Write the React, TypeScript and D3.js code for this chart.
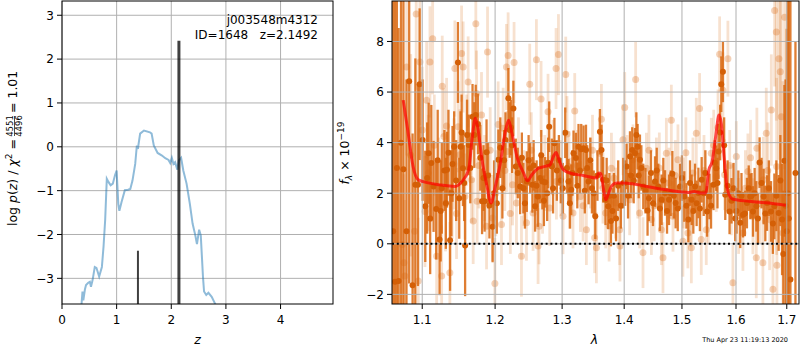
import React from 'react';
import * as d3 from 'd3';

// left panel: log p(z)
const zGrid = [0.35, 0.36, 0.375, 0.39, 0.42, 0.44, 0.48, 0.51, 0.53, 0.56, 0.60, 0.63, 0.68, 0.73, 0.76, 0.79, 0.82, 0.85, 0.89, 0.93, 0.97, 1.00, 1.03, 1.05, 1.09, 1.15, 1.21, 1.25, 1.29, 1.34, 1.37, 1.39, 1.40, 1.43, 1.50, 1.61, 1.64, 1.68, 1.75, 1.83, 1.89, 1.95, 1.98, 2.01, 2.04, 2.07, 2.11, 2.14, 2.18, 2.22, 2.28, 2.34, 2.39, 2.44, 2.47, 2.51, 2.54, 2.58, 2.60, 2.64, 2.68, 2.74, 2.81, 2.85];
const logPz = [-3.7, -3.55, -3.30, -3.5, -3.25, -3.15, -3.10, -3.08, -3.19, -3.04, -2.74, -2.76, -2.96, -2.74, -2.28, -1.67, -0.73, -0.80, -0.88, -0.84, -0.65, -0.54, -1.30, -1.46, -1.26, -0.99, -0.98, -0.96, -0.77, -0.39, 0.03, -0.05, 0.05, 0.30, 0.37, 0.33, 0.30, 0.03, -0.14, -0.20, -0.26, -0.30, -0.37, -0.25, -0.39, -0.35, -0.52, -0.31, -0.25, -0.54, -0.84, -1.30, -1.75, -2.02, -2.22, -1.89, -2.02, -2.96, -3.30, -3.38, -3.33, -3.42, -3.60, -3.75];
const peakZ = [1.39, 2.14];
const peakTop = [-2.37, 2.42];
const peakWidth = [2, 3];
const zTicks = [0, 1, 2, 3, 4];
const pzTicks = [-3, -2, -1, 0, 1, 2, 3];

// right panel: spectrum, first set (solid)
const darkWave = [1.0625, 1.0648, 1.0672, 1.0694, 1.0725, 1.0756, 1.0795, 1.083, 1.0874, 1.091, 1.0944, 1.0966, 1.104, 1.1085, 1.112, 1.115, 1.1185, 1.123, 1.126, 1.1295, 1.133, 1.1372, 1.1405, 1.1427, 1.1479, 1.1515, 1.1548, 1.1578, 1.1628, 1.1681, 1.1726, 1.1757, 1.1815, 1.1851, 1.1878, 1.1919, 1.1964, 1.2047, 1.2105, 1.215, 1.2192, 1.223, 1.2265, 1.23, 1.2329, 1.2364, 1.2412, 1.2463, 1.2512, 1.2547, 1.2587, 1.2628, 1.2663, 1.2697, 1.2739, 1.277, 1.2801, 1.2841, 1.2881, 1.2918, 1.298, 1.3048, 1.3099, 1.3142, 1.3178, 1.3216, 1.3257, 1.33, 1.3337, 1.3376, 1.3417, 1.3471, 1.3525, 1.356, 1.36, 1.3626, 1.3653, 1.3691, 1.3735, 1.378, 1.383, 1.39, 1.3945, 1.3985, 1.404, 1.4097, 1.4135, 1.4182, 1.4226, 1.4266, 1.4323, 1.4396, 1.4455, 1.4525, 1.4582, 1.464, 1.47, 1.477, 1.4829, 1.4887, 1.4966, 1.5042, 1.5115, 1.5175, 1.5236, 1.5297, 1.5357, 1.5457, 1.5501, 1.5576, 1.5627, 1.567, 1.5721, 1.5752, 1.5796, 1.5877, 1.5953, 1.601, 1.6081, 1.6134, 1.621, 1.6276, 1.6328, 1.6393, 1.6457, 1.6536, 1.6604, 1.6683, 1.675, 1.6836, 1.6905, 1.6952, 1.7, 1.704, 1.7074, 1.7177,
  1.1005, 1.1065, 1.1105, 1.1205, 1.1245, 1.1315, 1.135, 1.139, 1.1455, 1.1497, 1.153, 1.1565, 1.1605, 1.165, 1.1705, 1.179, 1.1835, 1.19, 1.1985, 1.2025, 1.2075, 1.213, 1.221, 1.2245, 1.239, 1.2435, 1.249, 1.2565, 1.261, 1.268, 1.272, 1.2785, 1.286, 1.295, 1.301, 1.3075, 1.312, 1.316, 1.3238, 1.328, 1.3357, 1.3395, 1.3445, 1.35, 1.371, 1.3755, 1.3805, 1.3865, 1.401, 1.4065, 1.4115, 1.416, 1.4205, 1.4245, 1.429, 1.436, 1.442, 1.449, 1.4555, 1.461, 1.467, 1.4735, 1.48, 1.4855, 1.4925, 1.5, 1.508, 1.5145, 1.5205, 1.5265, 1.5325, 1.5395, 1.5425, 1.553, 1.56, 1.565, 1.57, 1.5775, 1.584, 1.5915, 1.5985, 1.6045, 1.6105, 1.617, 1.6245, 1.63, 1.636, 1.6425, 1.6495, 1.657, 1.664, 1.672, 1.679, 1.687, 1.693, 1.6975, 1.702];
const darkFlux = [0.5, -1.5, 3.0, -1.47, 4.0, 2.95, 0.5, 6.43, -1.64, 2.33, 2.33, 6.31, 1.48, 3.58, 3.19, 2.27, 1.38, 0.17, 2.2, 2.9, 2.93, 0.14, 3.16, 3.84, 7.17, 3.84, 2.99, -0.07, 3.91, 5.02, 5.09, 4.74, 1.68, 1.68, 3.62, 1.51, 0.67, 3.32, 2.2, 4.1, 5.75, 4.6, 5.35, 3.06, 2.8, 2.27, 2.2, 2.46, 2.99, 2.33, 1.48, 1.87, 2.6, 2.46, 2.43, 2.0, 4.63, 3.06, 3.98, 2.9, 2.5, 4.39, 2.46, 2.14, 3.58, 3.39, 3.84, 3.74, 3.78, 3.71, 2.46, 2.2, 1.09, 2.7, 4.43, 3.71, 2.53, 1.74, 1.48, 0.9, 1.9, 2.3, 1.5, 2.4, 3.06, 3.45, 3.71, 3.58, 3.84, 3.32, 2.27, 1.32, 2.8, 2.46, 2.27, 1.74, 2.01, 1.74, 2.77, 1.61, 2.27, 1.87, 0.96, 1.74, 2.27, 2.01, 2.53, 1.28, 1.87, 2.33, 2.99, 3.65, 6.31, 6.8, 1.94, 1.28, 2.2, 1.3, 0.83, 1.15, 1.61, 1.87, 1.28, 1.48, 3.21, 1.87, 1.61, 1.28, 1.48, 1.22, 0.96, 3.28, 0.5, 1.0, -1.41, 2.8,
  4.1, 2.6, 1.0, 3.3, 1.3, 1.6, 3.6, 2.0, 2.5, 1.8, 4.4, 2.4, 4.3, 3.0, 4.3, 3.4, 2.6, 2.7, 2.0, 1.6, 3.8, 3.3, 4.5, 3.9, 3.4, 1.6, 3.3, 3.1, 2.3, 3.5, 1.7, 3.2, 2.2, 3.3, 2.2, 3.0, 1.6, 2.8, 2.3, 2.9, 2.1, 3.0, 3.3, 2.0, 2.5, 1.9, 1.3, 1.0, 2.4, 1.9, 2.7, 2.5, 4.3, 2.7, 3.0, 2.1, 1.8, 1.6, 2.9, 1.4, 2.5, 1.3, 2.0, 1.9, 1.4, 2.6, 1.5, 2.4, 1.3, 1.6, 1.4, 2.0, 2.8, 1.5, 3.2, 2.4, 4.4, 3.9, 2.3, 1.7, 1.0, 2.0, 1.9, 1.2, 2.2, 1.9, 2.0, 1.0, 2.4, 1.2, 2.2, 0.8, 1.9, 2.5, -0.4, 1.5, 2.0];
const darkErr = [14, 12, 11, 10, 7.5, 7, 6, 8, 6, 5, 4, 3, 2.2, 2.0, 2.3, 1.8, 2.0, 2.2, 1.8, 1.6, 1.5, 2.0, 1.5, 1.4, 1.6, 1.4, 1.5, 2.0, 1.2, 1.3, 1.2, 1.2, 1.3, 1.2, 1.3, 1.3, 1.4, 1.2, 1.2, 1.1, 1.2, 1.1, 1.1, 1.1, 1.0, 1.1, 1.0, 1.2, 1.0, 1.1, 1.0, 1.2, 1.0, 1.1, 1.0, 1.1, 1.0, 1.1, 1.0, 1.2, 0.9, 1.0, 0.9, 1.0, 0.9, 1.0, 0.9, 1.0, 0.9, 1.0, 0.9, 1.0, 0.9, 1.0, 0.9, 1.0, 0.9, 1.0, 0.9, 1.0, 0.9, 1.0, 0.9, 1.0, 0.9, 1.0, 0.9, 1.0, 0.9, 1.0, 0.9, 1.0, 0.9, 1.0, 0.9, 1.0, 0.9, 1.0, 0.9, 1.0, 0.9, 1.0, 0.9, 1.0, 0.9, 1.0, 0.9, 1.0, 0.9, 1.0, 0.9, 1.1, 1.1, 1.2, 1.0, 0.9, 1.0, 0.9, 1.0, 0.9, 1.0, 0.9, 1.0, 1.0, 1.0, 1.1, 1.1, 1.2, 1.3, 1.5, 2.2, 3.0, 8, 12, 12, 5.2,
  2.4, 2.2, 2.2, 2.0, 2.0, 1.8, 1.7, 1.7, 1.6, 1.6, 1.5, 1.5, 1.4, 1.4, 1.3, 1.3, 1.3, 1.3, 1.3, 1.2, 1.2, 1.2, 1.1, 1.1, 1.0, 1.0, 1.0, 1.0, 1.0, 1.0, 1.0, 1.0, 1.0, 1.0, 1.0, 1.0, 1.0, 0.9, 0.9, 0.9, 0.9, 0.9, 0.9, 0.9, 0.9, 0.9, 0.9, 0.9, 0.9, 0.9, 0.9, 0.9, 0.9, 0.9, 0.9, 0.9, 0.9, 0.9, 0.9, 0.9, 0.9, 0.9, 0.9, 0.9, 0.9, 0.9, 0.9, 0.9, 0.9, 0.9, 0.9, 0.9, 0.9, 0.9, 0.9, 1.0, 1.1, 1.1, 1.0, 0.9, 0.9, 0.9, 0.9, 0.9, 0.9, 0.9, 1.0, 1.0, 1.0, 1.1, 1.1, 1.2, 1.4, 1.8, 2.5, 5, 10];

// second set (faint)
const lightWave = [1.0740, 1.0762, 1.0775, 1.0797, 1.0921, 1.0948, 1.0970, 1.1036, 1.1058, 1.1102, 1.1138, 1.1191, 1.1258, 1.1266, 1.1289, 1.1325, 1.1369, 1.1424, 1.1437, 1.1483, 1.1506, 1.1529, 1.1551, 1.1575, 1.1620, 1.1667, 1.1727, 1.1737, 1.1745, 1.1807, 1.1878, 1.1892, 1.1964, 1.1997, 1.2044, 1.2092, 1.2116, 1.2164, 1.2170, 1.2188, 1.2252, 1.2275, 1.2310, 1.2384, 1.2458, 1.2507, 1.2557, 1.2607, 1.2632, 1.2647, 1.2677, 1.2733, 1.2783, 1.2809, 1.2906, 1.2912, 1.2943, 1.3014, 1.3056, 1.3076, 1.3107, 1.3170, 1.3197, 1.3287, 1.3382, 1.3446, 1.3515, 1.3543, 1.3596, 1.3624, 1.3694, 1.3788, 1.3859, 1.3925, 1.3930, 1.3980, 1.4009, 1.4092, 1.4148, 1.4193, 1.4261, 1.4318, 1.4376, 1.4462, 1.4549, 1.4636, 1.4664, 1.4723, 1.4811, 1.4840, 1.4928, 1.5017, 1.5025, 1.5107, 1.5169, 1.5198, 1.5259, 1.5319, 1.5350, 1.5442, 1.5535, 1.5628, 1.5690, 1.5752, 1.5784, 1.5846, 1.5910, 1.5941, 1.6006, 1.6133, 1.6229, 1.6326, 1.6392, 1.6404, 1.6522, 1.6530, 1.6589, 1.6655, 1.6689, 1.6721, 1.6755, 1.6789, 1.6795, 1.6801, 1.6841, 1.6869, 1.6889, 1.6922, 1.6956,
  1.085, 1.09, 1.1, 1.108, 1.116, 1.122, 1.131, 1.14, 1.146, 1.16, 1.169, 1.177, 1.185, 1.193, 1.201, 1.214, 1.222, 1.234, 1.242, 1.253, 1.27, 1.286, 1.298, 1.313, 1.324, 1.333, 1.348, 1.365, 1.375, 1.383, 1.405, 1.423, 1.442, 1.451, 1.46, 1.477, 1.488, 1.507, 1.515, 1.54, 1.548, 1.558, 1.566, 1.588, 1.605, 1.618, 1.628, 1.646, 1.662];
const lightFlux = [-0.03, -0.75, -1.27, 6.99, 9.09, -1.47, 7.19, 1.28, 5.68, 7.19, 8.11, -0.49, -1.27, 6.23, 4.24, 4.66, -1.14, 3.16, 6.93, 4.63, 3.52, 7.52, 6.99, 1.87, 6.40, 2.53, 8.70, 5.94, 1.68, 5.09, 0.69, 7.58, 1.02, -1.57, 4.72, 0.76, 4.57, 6.99, 3.65, 7.45, 2.33, 7.17, 1.61, -0.49, 0.83, 6.31, 1.22, 7.28, -0.09, 0.69, 5.73, 2.80, 5.22, 1.42, 6.93, 2.46, 7.48, 1.09, 6.69, 4.34, 3.06, 1.22, 5.25, 1.87, 0.56, 2.80, 0.24, -0.16, 3.58, 4.92, 1.22, 2.99, 1.61, 0.56, -0.09, 4.11, 5.39, 1.74, 3.32, 6.50, 1.22, -0.35, 2.99, 0.96, 2.80, 0.56, -0.55, 3.58, 4.89, 1.09, 3.32, 0.10, 2.01, 0.43, -0.16, 2.80, 4.37, 5.35, 0.17, 0.56, 3.58, 2.66, 7.49, 6.07, 2.73, 7.32, 1.74, -1.54, 3.45, 0.43, 2.86, 1.09, -0.55, 3.78, -0.75, 2.53, 4.37, 0.96, 5.29, -1.80, 9.22, 8.37, 3.06, -0.85, 7.32, 6.80, 5.02, 0.43, 8.96,
  3.5, 0.5, 4.5, 2.8, 3.9, 2.2, 1.6, 2.1, 1.2, 4.1, 0.9, 3.1, 2.6, 3.7, 2.0, 2.9, 1.2, 3.4, 2.2, 3.7, 1.9, 3.4, 2.6, 2.0, 3.1, 1.5, 3.7, 2.2, 0.7, 2.6, 2.9, 2.4, 3.7, 1.5, 3.0, 2.4, 2.7, 3.6, 1.3, 2.9, 1.4, 3.9, 4.6, 3.1, 1.1, 2.2, 3.4, 1.6, 2.9];
const lightErr = [4, 3.5, 3, 3.5, 3, 2.5, 2.5, 2.2, 2.3, 2.2, 2.2, 2.0, 2.0, 2.0, 1.9, 1.9, 2.0, 1.8, 1.9, 1.8, 1.8, 1.9, 1.8, 1.7, 1.8, 1.7, 1.8, 1.7, 1.7, 1.7, 1.7, 1.8, 1.7, 1.8, 1.7, 1.6, 1.6, 1.7, 1.6, 1.7, 1.6, 1.6, 1.6, 1.6, 1.5, 1.6, 1.5, 1.6, 1.5, 1.5, 1.5, 1.5, 1.5, 1.5, 1.6, 1.5, 1.6, 1.5, 1.5, 1.5, 1.4, 1.4, 1.5, 1.4, 1.4, 1.4, 1.4, 1.4, 1.4, 1.4, 1.4, 1.4, 1.4, 1.4, 1.4, 1.4, 1.4, 1.4, 1.4, 1.5, 1.4, 1.4, 1.4, 1.4, 1.4, 1.4, 1.4, 1.4, 1.4, 1.4, 1.4, 1.4, 1.4, 1.4, 1.4, 1.4, 1.4, 1.4, 1.4, 1.4, 1.4, 1.4, 1.5, 1.5, 1.4, 1.5, 1.4, 1.5, 1.4, 1.5, 1.5, 1.5, 1.6, 1.6, 1.7, 1.7, 1.8, 2.0, 2.2, 2.5, 3.0, 3.5, 3.5, 4, 4, 5, 5, 6, 6,
  4, 3.5, 2.5, 2.3, 2.0, 2.0, 1.9, 1.9, 1.8, 1.8, 1.7, 1.7, 1.7, 1.7, 1.7, 1.6, 1.6, 1.6, 1.5, 1.5, 1.5, 1.5, 1.5, 1.4, 1.4, 1.4, 1.4, 1.4, 1.4, 1.4, 1.4, 1.4, 1.4, 1.4, 1.4, 1.4, 1.4, 1.4, 1.4, 1.4, 1.4, 1.4, 1.5, 1.4, 1.5, 1.5, 1.5, 1.6, 1.9];

// model
const modelWave = [1.0753, 1.0817, 1.088, 1.0947, 1.1013, 1.1236, 1.1441, 1.1533, 1.1627, 1.1673, 1.172, 1.1752, 1.1814, 1.1885, 1.1942, 1.2003, 1.2075, 1.2147, 1.2195, 1.2244, 1.2317, 1.2415, 1.2474, 1.2539, 1.2638, 1.2738, 1.2814, 1.2865, 1.2906, 1.2941, 1.3018, 1.3122, 1.3331, 1.3545, 1.3582, 1.3614, 1.3651, 1.3695, 1.3733, 1.3788, 1.387, 1.398, 1.4545, 1.5129, 1.522, 1.534, 1.543, 1.549, 1.555, 1.5616, 1.5678, 1.5722, 1.5773, 1.5836, 1.5931, 1.6252, 1.6647, 1.698];
const modelFlux = [5.68, 4.37, 3.06, 2.53, 2.46, 2.33, 2.27, 2.46, 2.93, 4.11, 4.96, 4.63, 3.32, 2.27, 1.61, 2.27, 3.19, 4.43, 4.89, 4.37, 3.45, 2.80, 2.49, 2.73, 2.99, 3.06, 3.12, 3.45, 3.61, 3.39, 2.93, 2.80, 2.70, 2.60, 2.80, 2.77, 2.27, 1.74, 1.94, 2.27, 2.40, 2.40, 2.20, 2.03, 2.07, 2.01, 2.01, 2.93, 3.25, 4.24, 5.09, 4.76, 3.45, 2.14, 1.77, 1.68, 1.61, 1.52];
const waveTicks = [1.1, 1.2, 1.3, 1.4, 1.5, 1.6, 1.7];
const fluxTicks = [-2, 0, 2, 4, 6, 8];

const FONT = '"DejaVu Sans", sans-serif';
const GRID = '#b0b0b0';
const ORANGE = '#d9670f';

const App: React.FC = () => {
  const L = { x0: 62, x1: 333, y0: 1, y1: 304 };
  const R = { x0: 392, x1: 799, y0: 1, y1: 304 };

  const xL = d3.scaleLinear().domain([0, 4.96]).range([L.x0, L.x1]);
  const yL = d3.scaleLinear().domain([-3.585, 3.325]).range([L.y1, L.y0]);
  const xR = d3.scaleLog().domain([1.061, 1.725]).range([R.x0, R.x1]);
  const yR = d3.scaleLinear().domain([-2.38, 9.6]).range([R.y1, R.y0]);

  const pzLine = d3.line<number>().x((_, i) => xL(zGrid[i])).y(d => yL(d))(logPz) || '';
  const modelLine = d3.line<number>().x((_, i) => xR(modelWave[i])).y(d => yR(d)).curve(d3.curveMonotoneX)(modelFlux) || '';
  const fmt = d3.format('');

  return (
    <svg width={800} height={350} style={{ position: 'absolute', left: 0, top: 0, background: '#fff' }} fontFamily={FONT}>
      <defs>
        <clipPath id="clipL"><rect x={L.x0} y={L.y0} width={L.x1 - L.x0} height={L.y1 - L.y0} /></clipPath>
        <clipPath id="clipR"><rect x={R.x0} y={R.y0} width={R.x1 - R.x0} height={R.y1 - R.y0} /></clipPath>
      </defs>
      <rect width={800} height={350} fill="#fff" />

      {/* left panel */}
      <g>
        {zTicks.map(t => <line key={'gx' + t} x1={xL(t)} x2={xL(t)} y1={L.y0} y2={L.y1} stroke={GRID} strokeWidth={1} />)}
        {pzTicks.map(t => <line key={'gy' + t} x1={L.x0} x2={L.x1} y1={yL(t)} y2={yL(t)} stroke={GRID} strokeWidth={1} />)}
        <g clipPath="url(#clipL)">
          <path d={pzLine} fill="none" stroke="#1f77b4" strokeOpacity={0.5} strokeWidth={2} />
          {peakZ.map((z, i) => (
            <line key={'pk' + i} x1={xL(z)} x2={xL(z)} y1={yL(-3.585)} y2={yL(peakTop[i])} stroke="#000" strokeOpacity={0.75} strokeWidth={peakWidth[i]} />
          ))}
        </g>
        <rect x={L.x0} y={L.y0} width={L.x1 - L.x0} height={L.y1 - L.y0} fill="none" stroke="#000" strokeWidth={1} />
        {zTicks.map(t => (
          <g key={'tx' + t}>
            <line x1={xL(t)} x2={xL(t)} y1={L.y1} y2={L.y1 + 5} stroke="#000" />
            <text x={xL(t)} y={L.y1 + 20} fontSize={12} textAnchor="middle">{fmt(t)}</text>
          </g>
        ))}
        {pzTicks.map(t => (
          <g key={'ty' + t}>
            <line x1={L.x0 - 5} x2={L.x0} y1={yL(t)} y2={yL(t)} stroke="#000" />
            <text x={L.x0 - 8} y={yL(t)} dy="0.36em" fontSize={12} textAnchor="end">{fmt(t)}</text>
          </g>
        ))}
        <text x={318} y={24} fontSize={12} textAnchor="end">j003548m4312</text>
        <text x={318} y={39} fontSize={12} textAnchor="end" xmlSpace="preserve">{'ID=1648   z=2.1492'}</text>
        <text x={197.5} y={344} fontSize={12.5} textAnchor="middle" fontStyle="italic">z</text>
        <g transform="translate(17,153) rotate(-90)" fontSize={12.5}>
          <text x={14} y={0} textAnchor="end" xmlSpace="preserve">
            log <tspan fontStyle="italic">p</tspan>(<tspan fontStyle="italic">z</tspan>) / <tspan fontStyle="italic">χ</tspan><tspan fontSize={9} dy={-5}>2</tspan><tspan dy={5}> =</tspan>
          </text>
          <text x={27} y={-4} fontSize={8.5} textAnchor="middle">4551</text>
          <line x1={17} x2={37} y1={-2.5} y2={-2.5} stroke="#000" strokeWidth={0.7} />
          <text x={27} y={5} fontSize={8.5} textAnchor="middle">4496</text>
          <text x={40} y={0} textAnchor="start">= 1.01</text>
        </g>
      </g>

      {/* right panel */}
      <g>
        <g clipPath="url(#clipR)">
          {lightWave.map((w, i) => (
            <line key={'le' + i} x1={xR(w)} x2={xR(w)} y1={yR(lightFlux[i] - lightErr[i])} y2={yR(lightFlux[i] + lightErr[i])} stroke={ORANGE} strokeOpacity={0.2} strokeWidth={2.8} />
          ))}
          {lightWave.map((w, i) => (
            <circle key={'lp' + i} cx={xR(w)} cy={yR(lightFlux[i])} r={3.5} fill={ORANGE} fillOpacity={0.3} />
          ))}
          {darkWave.map((w, i) => (
            <line key={'de' + i} x1={xR(w)} x2={xR(w)} y1={yR(darkFlux[i] - darkErr[i])} y2={yR(darkFlux[i] + darkErr[i])} stroke={ORANGE} strokeOpacity={0.85} strokeWidth={2.3} />
          ))}
          {darkWave.map((w, i) => (
            <circle key={'dp' + i} cx={xR(w)} cy={yR(darkFlux[i])} r={3} fill="#d45f06" />
          ))}
          {waveTicks.map(t => <line key={'gx' + t} x1={xR(t)} x2={xR(t)} y1={R.y0} y2={R.y1} stroke={GRID} strokeWidth={1} />)}
          {fluxTicks.map(t => <line key={'gy' + t} x1={R.x0} x2={R.x1} y1={yR(t)} y2={yR(t)} stroke={GRID} strokeWidth={1} />)}
          <line x1={R.x0} x2={R.x1} y1={yR(0)} y2={yR(0)} stroke="#000" strokeWidth={2} strokeDasharray="2 2.8" />
          <path d={modelLine} fill="none" stroke="#ff0000" strokeOpacity={0.7} strokeWidth={3} />
        </g>
        <rect x={R.x0} y={R.y0} width={R.x1 - R.x0} height={R.y1 - R.y0} fill="none" stroke="#000" strokeWidth={1} />
        {waveTicks.map(t => (
          <g key={'tx' + t}>
            <line x1={xR(t)} x2={xR(t)} y1={R.y1} y2={R.y1 + 5} stroke="#000" />
            <text x={xR(t)} y={R.y1 + 20} fontSize={12} textAnchor="middle">{d3.format('.1f')(t)}</text>
          </g>
        ))}
        {fluxTicks.map(t => (
          <g key={'ty' + t}>
            <line x1={R.x0 - 5} x2={R.x0} y1={yR(t)} y2={yR(t)} stroke="#000" />
            <text x={R.x0 - 8} y={yR(t)} dy="0.36em" fontSize={12} textAnchor="end">{fmt(t)}</text>
          </g>
        ))}
        <text x={594.5} y={344} fontSize={12.5} textAnchor="middle" fontStyle="italic">λ</text>
        <g transform="translate(349,153) rotate(-90)" fontSize={12.5}>
          <text x={0} y={0} textAnchor="middle" xmlSpace="preserve">
            <tspan fontStyle="italic">f</tspan><tspan fontStyle="italic" fontSize={9} dy={3}>λ</tspan><tspan dy={-3}> × 10</tspan><tspan fontSize={9} dy={-5}>−19</tspan>
          </text>
        </g>
        <text x={788} y={342} fontSize={6.5} textAnchor="end">Thu Apr 23 11:19:13 2020</text>
      </g>
    </svg>
  );
};

export default App;
